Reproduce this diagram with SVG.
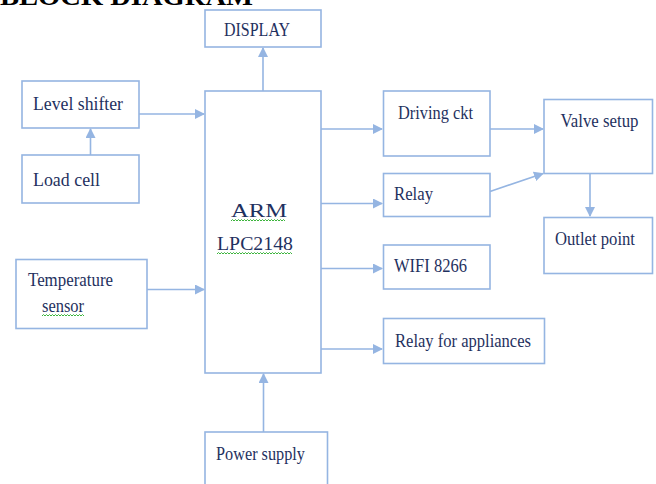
<svg xmlns="http://www.w3.org/2000/svg" width="656" height="484" viewBox="0 0 656 484">
<defs>
<style>
.box{fill:#fff;stroke:#95b5e2;stroke-width:1.6}
.t{font-family:"Liberation Serif",serif;font-size:19px;fill:#1f3160}
.c{stroke:#95b5e2;stroke-width:1.6;fill:none;marker-end:url(#ah)}
.sq{stroke:#3cb43c;stroke-width:1;fill:none}
</style>
<marker id="ah" markerWidth="10" markerHeight="10" refX="9" refY="5" orient="auto" markerUnits="userSpaceOnUse">
<path d="M0,0 L10,5 L0,10 Z" fill="#95b5e2"/>
</marker>
</defs>
<rect width="656" height="484" fill="#fff"/>
<text x="0" y="5" font-family="Liberation Serif,serif" font-weight="bold" font-size="26" textLength="253" lengthAdjust="spacingAndGlyphs" fill="#000">BLOCK DIAGRAM</text>

<g id="connectors">
<line class="c" x1="263" y1="91" x2="263" y2="48"/>
<line class="c" x1="139" y1="114" x2="204" y2="114"/>
<line class="c" x1="90.5" y1="155" x2="90.5" y2="129"/>
<line class="c" x1="147" y1="289.5" x2="204" y2="289.5"/>
<line class="c" x1="321" y1="129" x2="382" y2="129"/>
<line class="c" x1="321" y1="203.5" x2="382" y2="203.5"/>
<line class="c" x1="321" y1="268.5" x2="382" y2="268.5"/>
<line class="c" x1="321" y1="349" x2="382" y2="349"/>
<line class="c" x1="490" y1="129" x2="543" y2="129"/>
<line class="c" x1="490" y1="191.5" x2="543" y2="173.5"/>
<line class="c" x1="590" y1="173" x2="590" y2="216"/>
<line class="c" x1="263.5" y1="432" x2="263.5" y2="374"/>
</g>

<g id="display"><rect class="box" x="205" y="10" width="116" height="37"/><text class="t" x="224" y="36" textLength="66" lengthAdjust="spacingAndGlyphs">DISPLAY</text></g>
<g id="level-shifter"><rect class="box" x="22" y="81" width="117" height="47"/><text class="t" x="33" y="110" textLength="90" lengthAdjust="spacingAndGlyphs">Level shifter</text></g>
<g id="load-cell"><rect class="box" x="22" y="155" width="117" height="48"/><text class="t" x="33" y="186" textLength="67" lengthAdjust="spacingAndGlyphs">Load cell</text></g>
<g id="temperature-sensor"><rect class="box" x="16" y="259.5" width="131" height="69"/><text class="t" x="28" y="286" textLength="85" lengthAdjust="spacingAndGlyphs">Temperature</text><text class="t" x="42" y="312" textLength="42" lengthAdjust="spacingAndGlyphs">sensor</text><path class="sq" d="M42,316 l1.5,-1.5 l1.5,1.5 l1.5,-1.5 l1.5,1.5 l1.5,-1.5 l1.5,1.5 l1.5,-1.5 l1.5,1.5 l1.5,-1.5 l1.5,1.5 l1.5,-1.5 l1.5,1.5 l1.5,-1.5 l1.5,1.5 l1.5,-1.5 l1.5,1.5 l1.5,-1.5 l1.5,1.5 l1.5,-1.5 l1.5,1.5 l1.5,-1.5 l1.5,1.5 l1.5,-1.5 l1.5,1.5 l1.5,-1.5 l1.5,1.5 l1.5,-1.5 l1.5,1.5"/></g>
<g id="arm"><rect class="box" x="205" y="91" width="116" height="282"/><text class="t" x="231" y="217" font-size="22" textLength="56" lengthAdjust="spacingAndGlyphs">ARM</text><text class="t" x="217" y="250" font-size="22" textLength="76" lengthAdjust="spacingAndGlyphs">LPC2148</text><path class="sq" d="M231,221 l1.5,-1.5 l1.5,1.5 l1.5,-1.5 l1.5,1.5 l1.5,-1.5 l1.5,1.5 l1.5,-1.5 l1.5,1.5 l1.5,-1.5 l1.5,1.5 l1.5,-1.5 l1.5,1.5 l1.5,-1.5 l1.5,1.5 l1.5,-1.5 l1.5,1.5 l1.5,-1.5 l1.5,1.5 l1.5,-1.5 l1.5,1.5 l1.5,-1.5 l1.5,1.5 l1.5,-1.5 l1.5,1.5 l1.5,-1.5 l1.5,1.5 l1.5,-1.5 l1.5,1.5 l1.5,-1.5 l1.5,1.5 l1.5,-1.5 l1.5,1.5 l1.5,-1.5 l1.5,1.5 l1.5,-1.5 l1.5,1.5"/><path class="sq" d="M217,254 l1.5,-1.5 l1.5,1.5 l1.5,-1.5 l1.5,1.5 l1.5,-1.5 l1.5,1.5 l1.5,-1.5 l1.5,1.5 l1.5,-1.5 l1.5,1.5 l1.5,-1.5 l1.5,1.5 l1.5,-1.5 l1.5,1.5 l1.5,-1.5 l1.5,1.5 l1.5,-1.5 l1.5,1.5 l1.5,-1.5 l1.5,1.5 l1.5,-1.5 l1.5,1.5 l1.5,-1.5 l1.5,1.5 l1.5,-1.5 l1.5,1.5 l1.5,-1.5 l1.5,1.5 l1.5,-1.5 l1.5,1.5 l1.5,-1.5 l1.5,1.5 l1.5,-1.5 l1.5,1.5 l1.5,-1.5 l1.5,1.5 l1.5,-1.5 l1.5,1.5 l1.5,-1.5 l1.5,1.5 l1.5,-1.5 l1.5,1.5 l1.5,-1.5 l1.5,1.5 l1.5,-1.5 l1.5,1.5 l1.5,-1.5 l1.5,1.5 l1.5,-1.5 l1.5,1.5"/></g>
<g id="driving-ckt"><rect class="box" x="383.5" y="91" width="106.5" height="65"/><text class="t" x="398" y="119" textLength="75" lengthAdjust="spacingAndGlyphs">Driving ckt</text></g>
<g id="relay"><rect class="box" x="383.5" y="173.5" width="106.5" height="43"/><text class="t" x="394" y="200" textLength="39" lengthAdjust="spacingAndGlyphs">Relay</text></g>
<g id="wifi"><rect class="box" x="383.5" y="245" width="106.5" height="44"/><text class="t" x="394" y="272" textLength="73" lengthAdjust="spacingAndGlyphs">WIFI 8266</text></g>
<g id="relay-appliances"><rect class="box" x="383.5" y="318.5" width="161" height="45"/><text class="t" x="395" y="347" textLength="136" lengthAdjust="spacingAndGlyphs">Relay for appliances</text></g>
<g id="valve-setup"><rect class="box" x="544" y="99.5" width="108.5" height="74"/><text class="t" x="560.5" y="127" textLength="78" lengthAdjust="spacingAndGlyphs">Valve setup</text></g>
<g id="outlet-point"><rect class="box" x="544" y="217.5" width="108.5" height="56"/><text class="t" x="555" y="245" textLength="80" lengthAdjust="spacingAndGlyphs">Outlet point</text></g>
<g id="power-supply"><rect class="box" x="205" y="432" width="122.5" height="60"/><text class="t" x="216" y="460" textLength="89" lengthAdjust="spacingAndGlyphs">Power supply</text></g>
</svg>
